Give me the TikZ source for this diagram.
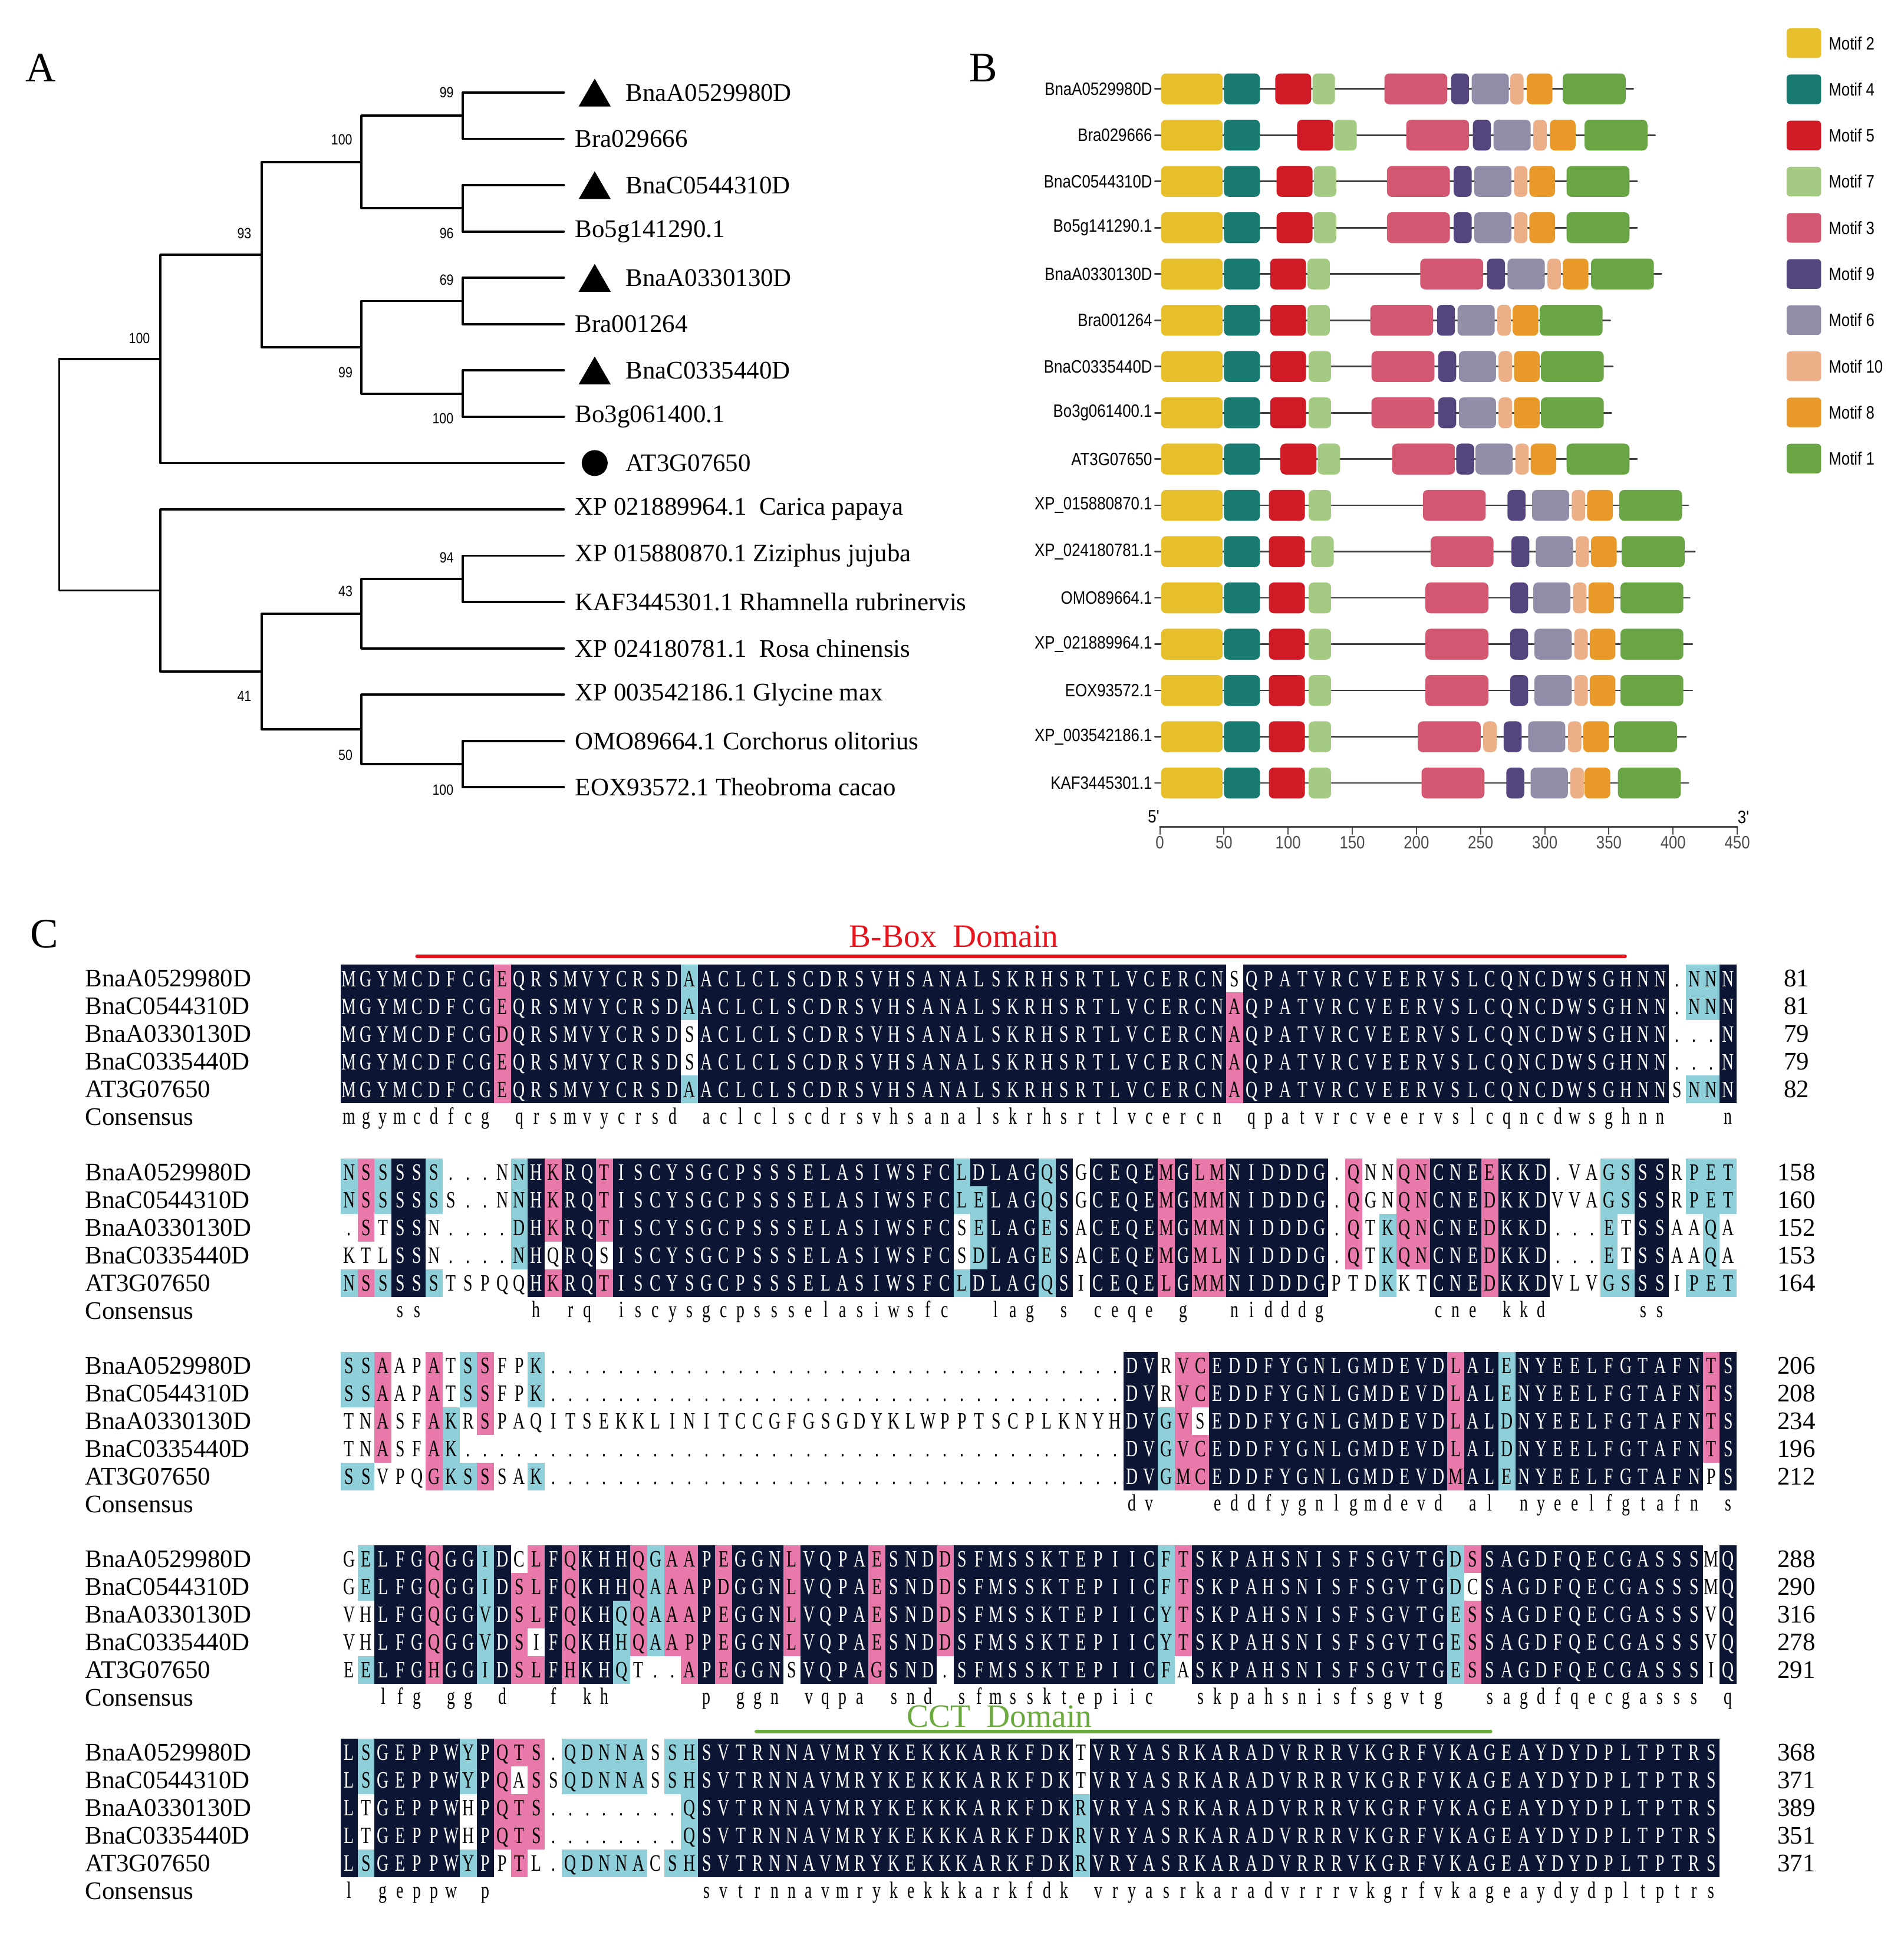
\documentclass[tikz,border=0pt]{standalone}
\usepackage{fontspec}
\setmainfont{Liberation Serif}
\newfontfamily\alnfont[FakeStretch=0.7]{Liberation Serif}
\newfontfamily\narrowsans[FakeStretch=0.85]{Liberation Sans}
\usetikzlibrary{shapes.geometric}

\definecolor{alnnavy}{RGB}{12,22,52}
\definecolor{alnpink}{RGB}{232,121,170}
\definecolor{alncyan}{RGB}{143,207,218}
\definecolor{mtwo}{RGB}{231,190,43}
\definecolor{mfour}{RGB}{25,122,114}
\definecolor{mfive}{RGB}{208,27,38}
\definecolor{mseven}{RGB}{165,202,131}
\definecolor{mthree}{RGB}{212,87,114}
\definecolor{mnine}{RGB}{85,69,127}
\definecolor{msix}{RGB}{145,141,168}
\definecolor{mten}{RGB}{237,175,135}
\definecolor{meight}{RGB}{232,153,42}
\definecolor{mone}{RGB}{105,165,69}
\definecolor{bboxred}{RGB}{232,20,30}
\definecolor{cctgreen}{RGB}{107,170,63}

% alignment cells: one colour letter and one residue per column
\newcount\alncol
\newif\ifalnplain
\def\alnstop{\alnstop}
\def\alnx{276}
\def\alnw{13.8}
\def\alnh{22.45}
\newcommand\alnreadc[1]{\ifx#1\alnstop\else\advance\alncol by 1 \expandafter\def\csname alncc\the\alncol\endcsname{#1}\expandafter\alnreadc\fi}
\newcommand\alnreadr[1]{\ifx#1\alnstop\else\advance\alncol by 1 \alncell{#1}\expandafter\alnreadr\fi}
\newcommand\alncell[1]{%
  \pgfmathsetmacro\alnxl{\alnx+(\the\alncol-1)*\alnw}%
  \def\alntc{black}%
  \ifalnplain\else
    \edef\alnc{\csname alncc\the\alncol\endcsname}%
    \if n\alnc\fill[alnnavy] (\alnxl,\alntop) rectangle ++(\alnw,\alnh);\def\alntc{white}\fi
    \if p\alnc\fill[alnpink] (\alnxl,\alntop) rectangle ++(\alnw,\alnh);\fi
    \if c\alnc\fill[alncyan] (\alnxl,\alntop) rectangle ++(\alnw,\alnh);\fi
  \fi
  \if -#1\else\node[alnchar,text=\alntc] at ({\alnxl+\alnw/2},\alnbase) {#1};\fi}
\newcommand\alnrow[3]{%
  \pgfmathsetmacro\alntop{#1-\alnh/2}%
  \pgfmathsetmacro\alnbase{#1+6.3}%
  \alnplainfalse
  \alncol=0 \alnreadc#2\alnstop
  \alncol=0 \alnreadr#3\alnstop}
\newcommand\alncons[2]{%
  \pgfmathsetmacro\alnbase{#1+5.5}%
  \alnplaintrue
  \alncol=0 \alnreadr#2\alnstop}

% motif track: backbone line, then boxes start/length/colour in aa
\newcommand\motifrow[3]{%
  \draw[line width=1.3pt,black!75] (936,#1) -- ({940+1.04*(#2)},#1);
  \foreach \s/\l/\c in {1/48/mtwo,50/28/mfour,#3}
    \fill[\c,rounded corners=4pt] ({940+1.04*\s},{#1-12.5}) rectangle ({940+1.04*(\s+\l)},{#1+12.5});}

\begin{document}
\begin{tikzpicture}[x=1pt,y=-1pt,line join=round,line cap=round,
  branch/.style={line width=1.8pt},
  leaf/.style={anchor=west,inner sep=0pt,font=\fontsize{20.5}{24}\selectfont},
  boot/.style={inner sep=0pt,font=\narrowsans\fontsize{12}{14}\selectfont},
  panel/.style={inner sep=0pt,font=\fontsize{34}{40}\selectfont},
  mlabel/.style={inner sep=0pt,font=\narrowsans\fontsize{14.5}{17}\selectfont},
  seqname/.style={anchor=west,inner sep=0pt,font=\fontsize{20.5}{24}\selectfont},
  seqnum/.style={inner sep=0pt,font=\fontsize{20.5}{24}\selectfont},
  domlabel/.style={inner sep=0pt,font=\fontsize{26.5}{30}\selectfont},
  alnchar/.style={inner sep=0pt,anchor=base,font=\alnfont\fontsize{19}{19}\selectfont},
  annomark/.style={regular polygon,regular polygon sides=3,fill,inner sep=0pt,minimum size=30pt},
  refmark/.style={circle,fill,inner sep=0pt,minimum size=21pt}]
\useasboundingbox (0,0) rectangle (1543,1568);

\node[panel] (pa) at (33,55) {A};
\foreach \i in {1,...,16}
  \coordinate (t\i) at (457,{75+(\i-1)*37.53});
\coordinate (r) at (48,384.6);
\coordinate (n1) at (130,290.8);
\coordinate (n2) at (130,478.5);
\coordinate (n3) at (212,206.4);
\coordinate (n4) at (293,131.3);
\coordinate (n5) at (293,281.4);
\coordinate (n6) at (375,93.8);
\coordinate (n7) at (375,168.8);
\coordinate (n8) at (375,243.9);
\coordinate (n9) at (375,319);
\coordinate (n10) at (212,544.1);
\coordinate (n11) at (293,497.2);
\coordinate (n12) at (293,591);
\coordinate (n13) at (375,469);
\coordinate (n14) at (375,619.2);
\draw[branch] (r) |- (n1) (r) |- (n2)
  (n1) |- (n3) (n1) |- (t9)
  (n3) |- (n4) (n3) |- (n5)
  (n4) |- (n6) (n4) |- (n7)
  (n6) |- (t1) (n6) |- (t2)
  (n7) |- (t3) (n7) |- (t4)
  (n5) |- (n8) (n5) |- (n9)
  (n8) |- (t5) (n8) |- (t6)
  (n9) |- (t7) (n9) |- (t8)
  (n2) |- (t10) (n2) |- (n10)
  (n10) |- (n11) (n10) |- (n12)
  (n11) |- (n13) (n11) |- (t13)
  (n13) |- (t11) (n13) |- (t12)
  (n12) |- (t14) (n12) |- (n14)
  (n14) |- (t15) (n14) |- (t16);
\foreach \i in {1,3,5,7}
  \node[annomark] (m\i) at ([xshift=25pt,yshift=-3.75pt]t\i) {};
\node[refmark] (m9) at ([xshift=25pt]t9) {};
\node[leaf] (l1) at ([xshift=50pt]t1) {BnaA0529980D};
\node[leaf] (l2) at ([xshift=9pt]t2) {Bra029666};
\node[leaf] (l3) at ([xshift=50pt]t3) {BnaC0544310D};
\node[leaf] (l4) at ([xshift=9pt]t4) {Bo5g141290.1};
\node[leaf] (l5) at ([xshift=50pt]t5) {BnaA0330130D};
\node[leaf] (l6) at ([xshift=9pt]t6) {Bra001264};
\node[leaf] (l7) at ([xshift=50pt]t7) {BnaC0335440D};
\node[leaf] (l8) at ([xshift=9pt]t8) {Bo3g061400.1};
\node[leaf] (l9) at ([xshift=50pt]t9) {AT3G07650};
\node[leaf] (l10) at ([xshift=9pt]t10) {XP 021889964.1\ \ Carica papaya};
\node[leaf] (l11) at ([xshift=9pt]t11) {XP 015880870.1 Ziziphus jujuba};
\node[leaf] (l12) at ([xshift=9pt]t12) {KAF3445301.1 Rhamnella rubrinervis};
\node[leaf] (l13) at ([xshift=9pt]t13) {XP 024180781.1\ \ Rosa chinensis};
\node[leaf] (l14) at ([xshift=9pt]t14) {XP 003542186.1 Glycine max};
\node[leaf] (l15) at ([xshift=9pt]t15) {OMO89664.1 Corchorus olitorius};
\node[leaf] (l16) at ([xshift=9pt]t16) {EOX93572.1 Theobroma cacao};
\foreach \x/\y/\v [count=\k] in {362/75/99,277/113/100,198/189/93,362/189/96,362/227/69,113/274/100,280/302/99,359/339/100,362/452/94,280/479/43,198/564/41,280/612/50,359/640/100}
  \node[boot] (bs\k) at (\x,\y) {\v};

\node[panel] (pb) at (797,55) {B};
\foreach \t [count=\k from 0] in {BnaA0529980D,Bra029666,BnaC0544310D,Bo5g141290.1,BnaA0330130D,Bra001264,BnaC0335440D,Bo3g061400.1,AT3G07650,XP\_015880870.1,XP\_024180781.1,OMO89664.1,XP\_021889964.1,EOX93572.1,XP\_003542186.1,KAF3445301.1}
  \node[mlabel,anchor=east] (g\k) at (934,{72+37.5*\k}) {\t};
\motifrow{72}{369}{90/28/mfive,119/17.5/mseven,175/49/mthree,227/14/mnine,243/29/msix,273/10.5/mten,286/20/meight,314/49/mone}
\motifrow{109.5}{386}{107/28/mfive,136/17.5/mseven,192/49/mthree,244/14/mnine,260/29/msix,291/10.5/mten,304/20/meight,331/49/mone}
\motifrow{147}{372}{91/28/mfive,120/17.5/mseven,177/49/mthree,229/14/mnine,245/29/msix,276/10.5/mten,288/20/meight,317/49/mone}
\motifrow{184.5}{372}{91/28/mfive,120/17.5/mseven,177/49/mthree,229/14/mnine,245/29/msix,276/10.5/mten,288/20/meight,317/49/mone}
\motifrow{222}{391}{86/28/mfive,115/17.5/mseven,203/49/mthree,255/14/mnine,271/29/msix,302/10.5/mten,314/20/meight,336/49/mone}
\motifrow{259.5}{351}{86/28/mfive,115/17.5/mseven,164/49/mthree,216/14/mnine,232/29/msix,263/10.5/mten,275/20/meight,296/49/mone}
\motifrow{297}{353}{86/28/mfive,116/17.5/mseven,165/49/mthree,217/14/mnine,233/29/msix,264/10.5/mten,276/20/meight,297/49/mone}
\motifrow{334.5}{352}{86/28/mfive,116/17.5/mseven,165/49/mthree,217/14/mnine,233/29/msix,264/10.5/mten,276/20/meight,297/49/mone}
\motifrow{372}{372}{94/28/mfive,123/17.5/mseven,181/49/mthree,231/14/mnine,246/29/msix,277/10.5/mten,289/20/meight,317/49/mone}
\motifrow{409.5}{412}{85/28/mfive,116/17.5/mseven,205/49/mthree,271/14/mnine,290/29/msix,321/10.5/mten,333/20/meight,358/49/mone}
\motifrow{447}{417}{85/28/mfive,118/17.5/mseven,211/49/mthree,274/14/mnine,293/29/msix,324/10.5/mten,336/20/meight,360/49/mone}
\motifrow{484.5}{413}{85/28/mfive,116/17.5/mseven,207/49/mthree,273/14/mnine,291/29/msix,322/10.5/mten,334/20/meight,359/49/mone}
\motifrow{522}{415}{85/28/mfive,116/17.5/mseven,207/49/mthree,273/14/mnine,292/29/msix,323/10.5/mten,335/20/meight,359/49/mone}
\motifrow{559.5}{415}{85/28/mfive,116/17.5/mseven,207/49/mthree,273/14/mnine,292/29/msix,323/10.5/mten,335/20/meight,359/49/mone}
\motifrow{597}{410}{85/28/mfive,116/17.5/mseven,201/49/mthree,252/10.5/mten,268/14/mnine,287/29/msix,318/10.5/mten,330/20/meight,354/49/mone}
\motifrow{634.5}{412}{85/28/mfive,116/17.5/mseven,204/49/mthree,270/14/mnine,289/29/msix,320/10.5/mten,331/20/meight,357/49/mone}
\draw[line width=1.3pt,black!70] (940,670) -- (1408,670);
\foreach \v in {0,50,...,450}
  \draw[line width=1pt,black!70] ({940+1.04*\v},670) -- ++(0,6) node[mlabel,below=1pt] (ax\v) {\v};
\node[mlabel] (five) at (935,662) {5'};
\node[mlabel] (three) at (1413,662) {3'};
\foreach \c/\t [count=\k from 0] in {mtwo/Motif 2,mfour/Motif 4,mfive/Motif 5,mseven/Motif 7,mthree/Motif 3,mnine/Motif 9,msix/Motif 6,mten/Motif 10,meight/Motif 8,mone/Motif 1}
{
  \fill[\c,rounded corners=3pt] (1448,{35+37.4*\k-12}) rectangle (1476,{35+37.4*\k+12});
  \node[mlabel,anchor=west] (lg\k) at (1482,{35+37.4*\k}) {\t};
}

\node[panel] (pc) at (36,757) {C};
\draw[bboxred,line width=3pt] (338,775) -- (1317,775);
\node[domlabel,text=bboxred] (bbox) at (773,759) {B-Box\ \ Domain};
\foreach \b in {0,...,4}
  \foreach \n [count=\r from 0] in {BnaA0529980D,BnaC0544310D,BnaA0330130D,BnaC0335440D,AT3G07650,Consensus}
    \node[seqname] (sn\b\r) at (69,{793+156.8*\b+22.45*\r}) {\n};
\foreach \b/\nums in {0/{81,81,79,79,82},1/{158,160,152,153,164},2/{206,208,234,196,212},3/{288,290,316,278,291},4/{368,371,389,351,371}}
  \foreach \v [count=\r from 0] in \nums
    \node[seqnum] (sq\b\r) at (1456,{793+156.8*\b+22.45*\r}) {\v};

\alnrow{793}{nnnnnnnnnp nnnnnnnnnn cnnnnnnnnn nnnnnnnnnn nnnnnnnnnn nnwnnnnnnn nnnnnnnnnn nnnnnnnnwc cn}{MGYMCDFCGE QRSMVYCRSD AACLCLSCDR SVHSANALSK RHSRTLVCER CNSQPATVRC VEERVSLCQN CDWSGHNN.N NN}
\alnrow{815.45}{nnnnnnnnnp nnnnnnnnnn cnnnnnnnnn nnnnnnnnnn nnnnnnnnnn nnpnnnnnnn nnnnnnnnnn nnnnnnnnwc cn}{MGYMCDFCGE QRSMVYCRSD AACLCLSCDR SVHSANALSK RHSRTLVCER CNAQPATVRC VEERVSLCQN CDWSGHNN.N NN}
\alnrow{837.9}{nnnnnnnnnp nnnnnnnnnn wnnnnnnnnn nnnnnnnnnn nnnnnnnnnn nnpnnnnnnn nnnnnnnnnn nnnnnnnnww wn}{MGYMCDFCGD QRSMVYCRSD SACLCLSCDR SVHSANALSK RHSRTLVCER CNAQPATVRC VEERVSLCQN CDWSGHNN.. .N}
\alnrow{860.35}{nnnnnnnnnp nnnnnnnnnn wnnnnnnnnn nnnnnnnnnn nnnnnnnnnn nnpnnnnnnn nnnnnnnnnn nnnnnnnnww wn}{MGYMCDFCGE QRSMVYCRSD SACLCLSCDR SVHSANALSK RHSRTLVCER CNAQPATVRC VEERVSLCQN CDWSGHNN.. .N}
\alnrow{882.8}{nnnnnnnnnp nnnnnnnnnn cnnnnnnnnn nnnnnnnnnn nnnnnnnnnn nnpnnnnnnn nnnnnnnnnn nnnnnnnnwc cn}{MGYMCDFCGE QRSMVYCRSD AACLCLSCDR SVHSANALSK RHSRTLVCER CNAQPATVRC VEERVSLCQN CDWSGHNNSN NN}
\alncons{905.25}{mgymcdfcg- qrsmvycrsd -aclclscdr svhsanalsk rhsrtlvcer cn-qpatvrc veervslcqn cdwsghnn-- -n}

\alnrow{949.8}{cpcnncwwww cnpnnpnnnn nnnnnnnnnn nnnnnncnnn ncnwnnnnpn ppnnnnnnwp wwppnnnpnn nwwwccnnwc cc}{NSSSSS...N NHKRQTISCY SGCPSSSELA SIWSFCLDLA GQSGCEQEMG LMNIDDDG.Q NNQNCNEEKK D.VAGSSSRP ET}
\alnrow{972.25}{cpcnncwwww cnpnnpnnnn nnnnnnnnnn nnnnnnccnn ncnwnnnnpn ppnnnnnnwp wwppnnnpnn nwwwccnnwc cc}{NSSSSSS..N NHKRQTISCY SGCPSSSELA SIWSFCLELA GQSGCEQEMG MMNIDDDG.Q GNQNCNEDKK DVVAGSSSRP ET}
\alnrow{994.7}{wpwnnwwwww cnpnnpnnnn nnnnnnnnnn nnnnnnwcnn ncnwnnnnpn ppnnnnnnwp wcppnnnpnn nwwwcwnnww cw}{.STSSN.... DHKRQTISCY SGCPSSSELA SIWSFCSELA GESACEQEMG MMNIDDDG.Q TKQNCNEDKK D...ETSSAA QA}
\alnrow{1017.15}{wwwnnwwwww cnwnnwnnnn nnnnnnnnnn nnnnnnwcnn ncnwnnnnpn ppnnnnnnwp wcppnnnpnn nwwwcwnnww cw}{KTLSSN.... NHQRQSISCY SGCPSSSELA SIWSFCSDLA GESACEQEMG MLNIDDDG.Q TKQNCNEDKK D...ETSSAA QA}
\alnrow{1039.6}{cpcnncwwww wnpnnpnnnn nnnnnnnnnn nnnnnncnnn ncnwnnnnpn ppnnnnnnww wcwwnnnpnn nwwwccnnwc cc}{NSSSSSTSPQ QHKRQTISCY SGCPSSSELA SIWSFCLDLA GQSICEQELG MMNIDDDGPT DKKTCNEDKK DVLVGSSSIP ET}
\alncons{1062.05}{---ss----- -h-rq-iscy sgcpsssela siwsfc--la g-s-ceqe-g --nidddg-- ----cne-kk d-----ss-- --}

\alnrow{1106.6}{ccpwwpwcpw wcwwwwwwww wwwwwwwwww wwwwwwwwww wwwwwwnnwp pnnnnnnnnn nnnnnpnncn nnnnnnnnnn pn}{SSAAPATSSF PK........ .......... .......... ......DVRV CEDDFYGNLG MDEVDLALEN YEELFGTAFN TS}
\alnrow{1129.05}{ccpwwpwcpw wcwwwwwwww wwwwwwwwww wwwwwwwwww wwwwwwnnwp pnnnnnnnnn nnnnnpnncn nnnnnnnnnn pn}{SSAAPATSSF PK........ .......... .......... ......DVRV CEDDFYGNLG MDEVDLALEN YEELFGTAFN TS}
\alnrow{1151.5}{wwpwwpcwpw wwwwwwwwww wwwwwwwwww wwwwwwwwww wwwwwwnncp wnnnnnnnnn nnnnnpnncn nnnnnnnnnn pn}{TNASFAKRSP AQITSEKKLI NITCCGFGSG DYKLWPPTSC PLKNYHDVGV SEDDFYGNLG MDEVDLALDN YEELFGTAFN TS}
\alnrow{1173.95}{wwpwwpcwww wwwwwwwwww wwwwwwwwww wwwwwwwwww wwwwwwnncp pnnnnnnnnn nnnnnpnncn nnnnnnnnnn pn}{TNASFAK... .......... .......... .......... ......DVGV CEDDFYGNLG MDEVDLALDN YEELFGTAFN TS}
\alnrow{1196.4}{ccwwwpccpw wcwwwwwwww wwwwwwwwww wwwwwwwwww wwwwwwnncp pnnnnnnnnn nnnnnpnncn nnnnnnnnnn wn}{SSVPQGKSSS AK........ .......... .......... ......DVGM CEDDFYGNLG MDEVDMALEN YEELFGTAFN PS}
\alncons{1218.85}{---------- ---------- ---------- ---------- ------dv-- -eddfygnlg mdevd-al-n yeelfgtafn -s}

\alnrow{1263.4}{wcnnnpnncn wpnpnnnpcp pnpnnnpnnn npnnnpnnnn nnnnnnnncp nnnnnnnnnn nnnnncpnnn nnnnnnnnnn wn}{GELFGQGGID CLFQKHHQGA APEGGNLVQP AESNDDSFMS SKTEPIICFT SKPAHSNISF SGVTGDSSAG DFQECGASSS MQ}
\alnrow{1285.85}{wcnnnpnncn ppnpnnnpcp pnpnnnpnnn npnnnpnnnn nnnnnnnncp nnnnnnnnnn nnnnncwnnn nnnnnnnnnn wn}{GELFGQGGID SLFQKHHQAA APDGGNLVQP AESNDDSFMS SKTEPIICFT SKPAHSNISF SGVTGDCSAG DFQECGASSS MQ}
\alnrow{1308.3}{wwnnnpnncn ppnpnncpcp pnpnnnpnnn npnnnpnnnn nnnnnnnncp nnnnnnnnnn nnnnncpnnn nnnnnnnnnn wn}{VHLFGQGGVD SLFQKHQQAA APEGGNLVQP AESNDDSFMS SKTEPIICYT SKPAHSNISF SGVTGESSAG DFQECGASSS VQ}
\alnrow{1330.75}{wwnnnpnncn pwnpnncpcp pnpnnnpnnn npnnnpnnnn nnnnnnnncp nnnnnnnnnn nnnnncpnnn nnnnnnnnnn wn}{VHLFGQGGVD SIFQKHHQAA PPEGGNLVQP AESNDDSFMS SKTEPIICYT SKPAHSNISF SGVTGESSAG DFQECGASSS VQ}
\alnrow{1353.2}{wcnnnpnncn ppnpnncwww pnpnnnwnnn npnnnwnnnn nnnnnnnncw nnnnnnnnnn nnnnncpnnn nnnnnnnnnn wn}{EELFGHGGID SLFHKHQT.. APEGGNSVQP AGSND.SFMS SKTEPIICFA SKPAHSNISF SGVTGESSAG DFQECGASSS IQ}
\alncons{1375.65}{--lfg-gg-d --f-kh---- -p-ggn-vqp a-snd-sfms sktepiic-- skpahsnisf sgvtg--sag dfqecgasss -q}

\draw[cctgreen,line width=3pt] (613,1403) -- (1208,1403);
\node[domlabel,text=cctgreen] (cct) at (810,1391) {CCT\ \ Domain};

\alnrow{1420.2}{ncnnnnncnp ppwcccccwc cnnnnnnnnn nnnnnnnnnn nnnwnnnnnn nnnnnnnnnn nnnnnnnnnn nnnnnnnnnn n}{LSGEPPWYPQ TS.QDNNASS HSVTRNNAVM RYKEKKKARK FDKTVRYASR KARADVRRRV KGRFVKAGEA YDYDPLTPTR S}
\alnrow{1442.65}{ncnnnnncnp wpwcccccwc cnnnnnnnnn nnnnnnnnnn nnnwnnnnnn nnnnnnnnnn nnnnnnnnnn nnnnnnnnnn n}{LSGEPPWYPQ ASSQDNNASS HSVTRNNAVM RYKEKKKARK FDKTVRYASR KARADVRRRV KGRFVKAGEA YDYDPLTPTR S}
\alnrow{1465.1}{nwnnnnnwnp ppwwwwwwww cnnnnnnnnn nnnnnnnnnn nnncnnnnnn nnnnnnnnnn nnnnnnnnnn nnnnnnnnnn n}{LTGEPPWHPQ TS........ QSVTRNNAVM RYKEKKKARK FDKRVRYASR KARADVRRRV KGRFVKAGEA YDYDPLTPTR S}
\alnrow{1487.55}{nwnnnnnwnp ppwwwwwwww cnnnnnnnnn nnnnnnnnnn nnncnnnnnn nnnnnnnnnn nnnnnnnnnn nnnnnnnnnn n}{LTGEPPWHPQ TS........ QSVTRNNAVM RYKEKKKARK FDKRVRYASR KARADVRRRV KGRFVKAGEA YDYDPLTPTR S}
\alnrow{1510}{ncnnnnncnw pwwcccccwc cnnnnnnnnn nnnnnnnnnn nnncnnnnnn nnnnnnnnnn nnnnnnnnnn nnnnnnnnnn n}{LSGEPPWYPP TL.QDNNACS HSVTRNNAVM RYKEKKKARK FDKRVRYASR KARADVRRRV KGRFVKAGEA YDYDPLTPTR S}
\alncons{1532.45}{l-geppw-p- ---------- -svtrnnavm rykekkkark fdk-vryasr karadvrrrv kgrfvkagea ydydpltptr s}
\end{tikzpicture}
\end{document}
